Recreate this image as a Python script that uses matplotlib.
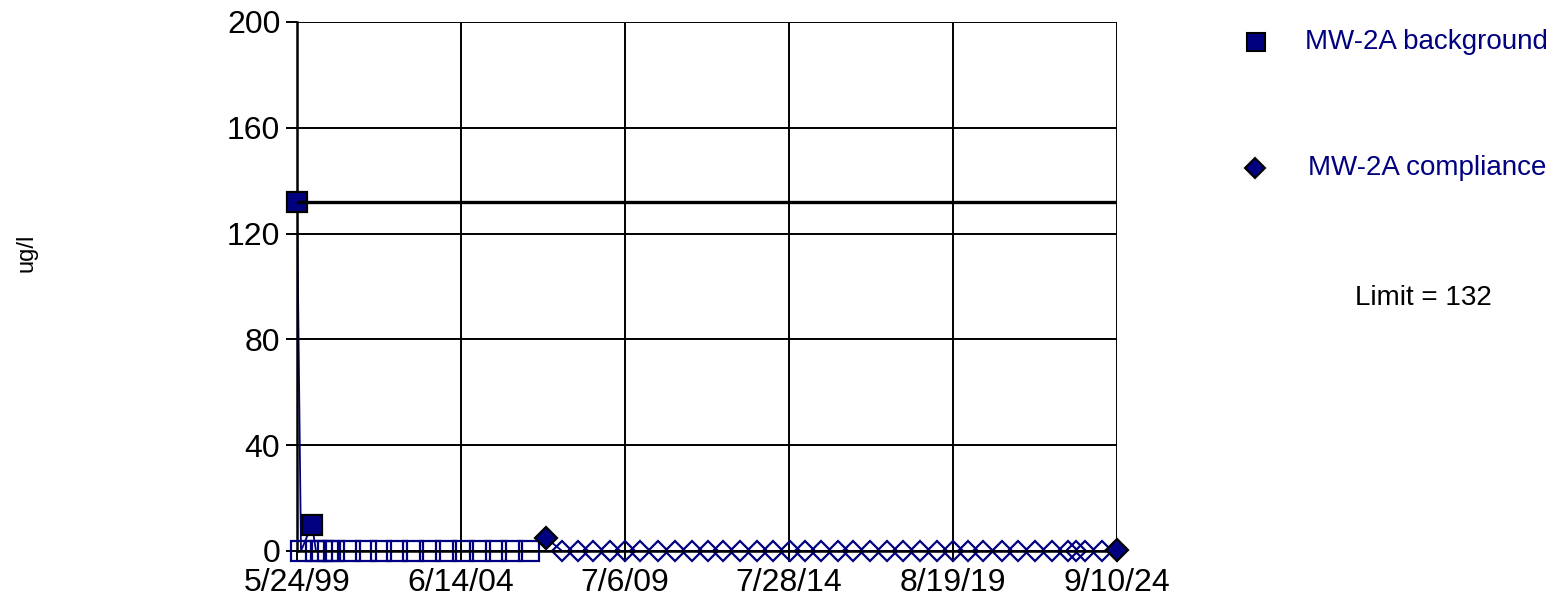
import numpy as np
import matplotlib
matplotlib.use("Agg")
import matplotlib.pyplot as plt
import matplotlib.dates as mdates
from matplotlib.lines import Line2D

plt.rcParams['font.family'] = ['Liberation Sans', 'DejaVu Sans']

# background well: date, value, detected (1) / non-detect (0)
bg_dates = ["1999-05-24", "1999-07-08", "1999-11-09", "1999-12-24", "2000-03-01",
            "2000-05-07", "2000-07-14", "2001-01-10", "2001-07-10", "2001-12-26",
            "2002-06-24", "2002-12-21", "2003-07-01", "2003-12-28", "2004-07-07",
            "2005-01-14", "2005-07-14", "2006-01-10", "2006-07-20"]
bg_values = [132, 0, 10, 0, 0, 0, 0, 0, 0, 0, 0, 0, 0, 0, 0, 0, 0, 0, 0]
bg_detect = [1, 0, 1, 0, 0, 0, 0, 0, 0, 0, 0, 0, 0, 0, 0, 0, 0, 0, 0]

# compliance well
cp_dates = ["2007-01-28", "2007-07-28", "2008-01-24", "2008-07-11", "2009-01-19",
            "2009-07-07", "2009-12-23", "2010-07-13", "2011-01-21", "2011-08-01",
            "2012-01-28", "2012-07-15", "2013-01-23", "2013-08-02", "2014-01-29",
            "2014-08-09", "2015-01-25", "2015-07-24", "2016-02-01", "2016-07-19",
            "2017-01-27", "2017-08-06", "2018-02-03", "2018-08-13", "2019-02-21",
            "2019-08-20", "2020-02-05", "2020-07-23", "2021-02-22", "2021-08-21",
            "2022-03-01", "2022-09-09", "2023-03-08", "2023-06-06", "2023-09-16",
            "2024-03-25", "2024-09-10"]
cp_values = [5] + [0] * 35 + [0.5]
cp_detect = [1] + [0] * 35 + [1]

limit = 132
x_start = "1999-05-24"
x_span_days = 9241
x_labels = ["5/24/99", "6/14/04", "7/6/09", "7/28/14", "8/19/19", "9/10/24"]
y_ticks = [0, 40, 80, 120, 160, 200]

navy = "#000080"

fig = plt.figure(figsize=(15.58, 6.14), dpi=100)
ax = fig.add_axes([297/1558, 1-551/614, 820/1558, 529/614])

bx = mdates.datestr2num(bg_dates)
by = np.array(bg_values, float)
bd = np.array(bg_detect, bool)
cx = mdates.datestr2num(cp_dates)
cy = np.array(cp_values, float)
cd = np.array(cp_detect, bool)

ax.plot(bx, by, color=navy, lw=1.3, zorder=2)
ax.plot(cx, cy, color=navy, lw=1.3, zorder=2)
ax.plot(bx[~bd], by[~bd], ls='none', marker='s', ms=14, mfc='none', mec=navy, mew=1.6,
        zorder=3, clip_on=False)
ax.plot(bx[bd], by[bd], ls='none', marker='s', ms=14.5, mfc=navy, mec='black', mew=1.6,
        zorder=4, clip_on=False)
ax.plot(cx[~cd], cy[~cd], ls='none', marker='D', ms=10, mfc='none', mec=navy, mew=1.6,
        zorder=3, clip_on=False)
ax.plot(cx[cd], cy[cd], ls='none', marker='D', ms=11, mfc=navy, mec='black', mew=1.6,
        zorder=4, clip_on=False)

ax.axhline(limit, color='black', lw=2.4, zorder=4.5)

x0 = mdates.datestr2num(x_start)
ax.set_xlim(x0, x0 + x_span_days)
ax.set_ylim(0, 200)
ax.set_xticks(np.linspace(x0, x0 + x_span_days, len(x_labels)))
ax.set_xticklabels(x_labels)
ax.set_yticks(y_ticks)
ax.grid(True, color='black', lw=1.4)
ax.set_axisbelow(True)
ax.tick_params(labelsize=23, direction='out', length=8, width=1.4, pad=4)
for s in ['top', 'right']:
    ax.spines[s].set_visible(False)
for s in ['left', 'bottom']:
    ax.spines[s].set_linewidth(1.8)
ax.spines['bottom'].set_zorder(3.5)

fig.text(0.0167, 0.588, 'ug/l', rotation=90, ha='center', va='center', fontsize=17)

# legend
fig.add_artist(Line2D([1256/1558], [1-42/614], marker='s', ms=13, mfc=navy, mec='black',
                      mew=1.5, transform=fig.transFigure))
fig.text(1305/1558, 1-42/614, 'MW-2A background', va='center', color=navy, fontsize=20)
fig.add_artist(Line2D([1255/1558], [1-168/614], marker='D', ms=10.5, mfc=navy, mec='black',
                      mew=1.5, transform=fig.transFigure))
fig.text(1308/1558, 1-168/614, 'MW-2A compliance', va='center', color=navy, fontsize=20)
fig.text(1355/1558, 1-298/614, 'Limit = %d' % limit, va='center', color='black', fontsize=20)

fig.savefig('out.png', dpi=100)
